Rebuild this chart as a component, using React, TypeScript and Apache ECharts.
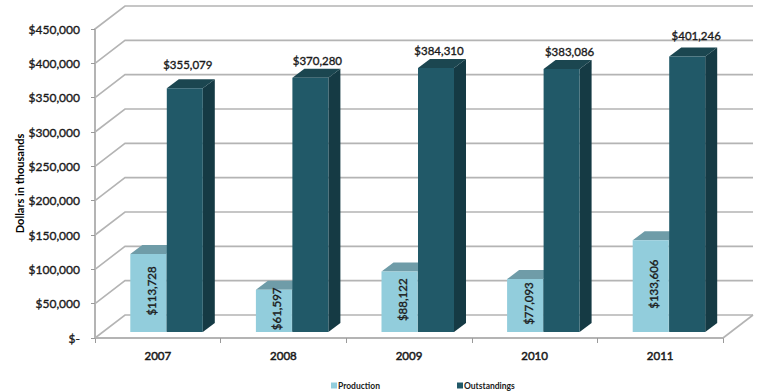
import React, { useEffect, useRef } from "react";
import * as echarts from "echarts";

const years = ["2007", "2008", "2009", "2010", "2011"];
const production = [113728, 61597, 88122, 77093, 133606];
const outstandings = [355079, 370280, 384310, 383086, 401246];
const gridValues = [0, 50000, 100000, 150000, 200000, 250000, 300000, 350000, 400000, 450000];

const FONT = "Lato, Carlito, Calibri, sans-serif";
const TEXT = "#1a1a1a";

// Depth of the chart box and of each column, in pixels.
const WALL_DX = 30;
const WALL_DY = 23;
const BAR_WIDTH = 36;
const BAR_DX = 12;
const BAR_DY = 9;
const FLOOR_DX = 9;
const FLOOR_DY = 6;

// Nudges of the value labels above the dark columns.
const topLabelNudge = [
  [3, -24],
  [7, -17],
  [3, -18],
  [8, -17],
  [9, -21],
];

// A hairline outline thickens the regular weight of the labels slightly.
const heavier = { textBorderColor: TEXT, textBorderWidth: 0.35 };

const money = (v: number) => "$" + v.toLocaleString("en-US");

function wallRenderer(_: any, api: any) {
  const band = api.size([1, 0])[0];
  const left = api.coord([0, api.value(1)]);
  const x0 = left[0] - band / 2;
  const x1 = x0 + band * years.length;
  const y = left[1];
  const style = { stroke: "#b4b4b4", lineWidth: 1.6, fill: "none" };
  const children: any[] = [
    {
      type: "polyline",
      shape: {
        points: [
          [x0, y],
          [x0 + WALL_DX, y - WALL_DY],
          [x1 + WALL_DX, y - WALL_DY],
        ],
      },
      style,
    },
  ];
  if (api.value(1) === 0) {
    children.push({
      type: "line",
      shape: { x1: x1, y1: y, x2: x1 + WALL_DX, y2: y - WALL_DY },
      style,
    });
  }
  return { type: "group", children };
}

function columnRenderer(shift: number, front: string, top: string, side: string, isInner: boolean) {
  return (_: any, api: any) => {
    const idx = api.value(0);
    const value = api.value(1);
    const tip = api.coord([idx, value]);
    const base = api.coord([idx, 0]);
    const x0 = tip[0] + FLOOR_DX + shift;
    const x1 = x0 + BAR_WIDTH;
    const yTop = tip[1] - FLOOR_DY;
    const yBase = base[1] - FLOOR_DY;
    const children: any[] = [
      {
        type: "polygon",
        shape: {
          points: [
            [x1, yTop],
            [x1 + BAR_DX, yTop - BAR_DY],
            [x1 + BAR_DX, yBase - BAR_DY],
            [x1, yBase],
          ],
        },
        style: { fill: side },
      },
      {
        type: "polygon",
        shape: {
          points: [
            [x0, yTop],
            [x0 + BAR_DX, yTop - BAR_DY],
            [x1 + BAR_DX, yTop - BAR_DY],
            [x1, yTop],
          ],
        },
        style: { fill: top },
      },
      { type: "rect", shape: { x: x0, y: yTop, width: BAR_WIDTH, height: yBase - yTop }, style: { fill: front } },
    ];
    const labelStyle = {
      text: money(value),
      fontFamily: FONT,
      fontSize: 11.5,
      fill: TEXT,
      stroke: TEXT,
      lineWidth: 0.35,
      align: "center",
      verticalAlign: "middle",
    };
    if (isInner) {
      children.push({
        type: "text",
        x: (x0 + x1) / 2 + 3,
        y: (yTop + yBase) / 2 - 2,
        rotation: Math.PI / 2,
        style: labelStyle,
      });
    } else {
      const nudge = topLabelNudge[idx];
      children.push({
        type: "text",
        x: (x0 + x1) / 2 + nudge[0],
        y: yTop + nudge[1],
        style: labelStyle,
      });
    }
    return { type: "group", children };
  };
}

export default function App() {
  const ref = useRef<HTMLDivElement>(null);

  useEffect(() => {
    const chart = echarts.init(ref.current!, undefined, { renderer: "svg" });
    chart.setOption({
      animation: false,
      backgroundColor: "#ffffff",
      grid: { left: 95, right: 38, top: 29, bottom: 53 },
      legend: {
        data: [
          { name: "Production", itemStyle: { color: "#92cddc" } },
          { name: "Outstandings", itemStyle: { color: "#215968" } },
        ],
        left: 326,
        top: 376,
        itemWidth: 6,
        itemHeight: 6,
        itemGap: 77,
        icon: "rect",
        textStyle: { fontFamily: FONT, fontSize: 8.5, fontWeight: 700, color: TEXT, padding: [0, 0, 0, -4] },
      },
      xAxis: {
        type: "category",
        data: years,
        boundaryGap: true,
        axisLine: { lineStyle: { color: "#b4b4b4", width: 2 } },
        axisTick: { show: true, alignWithLabel: false, length: 5, lineStyle: { color: "#9a9a9a" } },
        axisLabel: { fontFamily: FONT, fontSize: 11.5, color: TEXT, margin: 11, ...heavier, textBorderWidth: 0.5 },
      },
      yAxis: {
        type: "value",
        min: 0,
        max: 450000,
        interval: 50000,
        name: "Dollars in thousands",
        nameLocation: "middle",
        nameMoveOverlap: false,
        nameGap: 70,
        nameRotate: 90,
        nameTextStyle: { fontFamily: FONT, fontSize: 11, fontWeight: 700, color: "#000000" },
        axisLine: { show: true, lineStyle: { color: "#b4b4b4", width: 2 } },
        axisTick: { show: true, length: 4, lineStyle: { color: "#9a9a9a" } },
        splitLine: { show: false },
        axisLabel: {
          fontFamily: FONT,
          fontSize: 12,
          color: TEXT,
          margin: 15,
          ...heavier,
          formatter: (v: number) => (v === 0 ? "$-" : money(v)),
        },
      },
      series: [
        {
          type: "custom",
          name: "walls",
          silent: true,
          clip: false,
          renderItem: wallRenderer,
          encode: { x: 0, y: 1 },
          data: gridValues.map((v) => [0, v]),
          z: 1,
        },
        {
          type: "custom",
          name: "Production",
          silent: true,
          clip: false,
          itemStyle: { color: "#92cddc" },
          renderItem: columnRenderer(-36.5, "#92cddc", "#6f9ca8", "#5f8a96", true),
          encode: { x: 0, y: 1 },
          data: production.map((v, i) => [i, v]),
          z: 2,
        },
        {
          type: "custom",
          name: "Outstandings",
          silent: true,
          clip: false,
          itemStyle: { color: "#215968" },
          renderItem: columnRenderer(0, "#215968", "#1b4650", "#153a44", false),
          encode: { x: 0, y: 1 },
          data: outstandings.map((v, i) => [i, v]),
          z: 3,
        },
      ],
    });
    return () => chart.dispose();
  }, []);

  return <div ref={ref} style={{ position: "fixed", left: 0, top: 0, width: 761, height: 391 }} />;
}
